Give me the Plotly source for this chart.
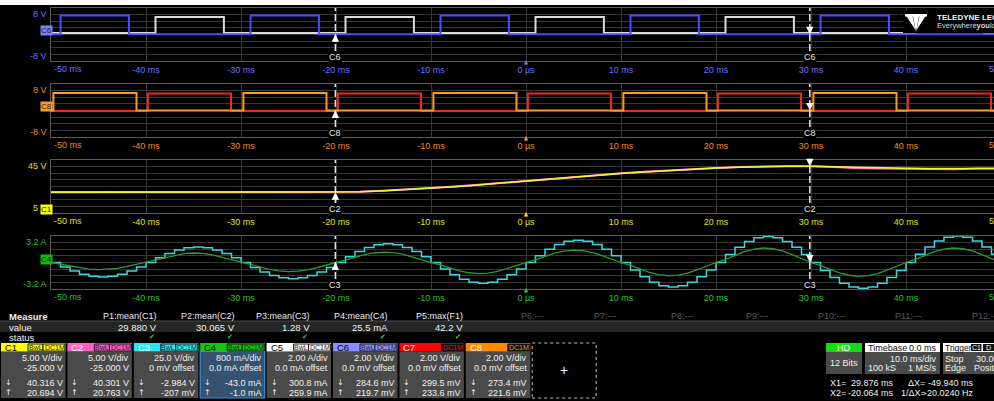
import plotly.graph_objects as go

# ---------------------------------------------------------------- data
time_ticks = [-40, -30, -20, -10, 0, 10, 20, 30, 40]
time_tick_text = ["-40 ms", "-30 ms", "-20 ms", "-10 ms", "0 µs",
                  "10 ms", "20 ms", "30 ms", "40 ms"]

# gate-drive channels: switching instants in ms (every trace starts low)
c6_edges = [-49.0, -41.8, -29.0, -21.8, -9.0, -1.8, 11.0, 18.2, 31.0, 38.2]
c5_edges = [-39.0, -31.8, -19.0, -11.8, 1.0, 8.2, 21.0, 28.2, 41.0, 48.2]
c8_edges = [-49.75, -41.0, -29.75, -21.0, -9.75, -1.0, 10.25, 19.0, 30.25, 39.0]
c7_edges = [-39.8, -31.05, -19.8, -11.05, 0.2, 8.95, 20.2, 28.95, 40.2, 48.95]
c6_levels = [0.1, 5.7]
c5_levels = [0.45, 5.3]
c8_levels = [0.0, 5.3]
c7_levels = [-0.15, 5.1]

# DC bus voltages (V), sampled every 2.5 ms
bus_time = [-50, -47.5, -45, -42.5, -40, -37.5, -35, -32.5, -30, -27.5, -25,
            -22.5, -20, -17.5, -15, -12.5, -10, -7.5, -5, -2.5, 0, 2.5, 5,
            7.5, 10, 12.5, 15, 17.5, 20, 22.5, 25, 27.5, 30, 32.5, 35, 37.5,
            40, 42.5, 45, 47.5, 50]
c1_bus = [20.70, 20.72, 20.68, 20.70, 20.71, 20.69, 20.70, 20.72, 20.70, 20.69,
          20.71, 20.70, 20.69, 21.00, 21.70, 22.60, 23.70, 24.90, 26.20, 27.70,
          29.30, 30.80, 32.20, 33.60, 34.90, 36.00, 37.10, 38.10, 38.90, 39.60,
          40.10, 40.30, 40.30, 39.90, 39.10, 38.80, 38.80, 38.60, 38.40, 38.60,
          38.60]
c2_bus = [20.76, 20.80, 20.95, 20.74, 20.76, 20.90, 20.75, 20.78, 20.76, 20.92,
          20.88, 20.77, 20.76, 21.05, 21.75, 22.65, 23.75, 24.95, 26.25, 27.75,
          29.35, 30.85, 32.30, 33.70, 35.00, 36.10, 37.20, 38.20, 39.00, 39.70,
          40.20, 40.35, 40.30, 39.80, 38.70, 38.60, 38.70, 38.40, 38.00, 38.50,
          38.60]

# phase currents (A), one sample per ms from -50 ms to +50 ms
cur_time = list(range(-50, 51))
c3_current = [
    0.00, -0.54, -1.03, -1.42, -1.66, -1.75, -1.66, -1.42, -1.03, -0.54,
    0.00, 0.58, 1.10, 1.51, 1.78, 1.87, 1.78, 1.51, 1.10, 0.58,
    0.00, -0.60, -1.15, -1.58, -1.85, -1.95, -1.85, -1.58, -1.15, -0.60,
    0.00, 0.70, 1.32, 1.82, 2.14, 2.25, 2.14, 1.82, 1.32, 0.70,
    0.00, -0.77, -1.47, -2.02, -2.38, -2.50, -2.38, -2.02, -1.47, -0.77,
    0.00, 0.83, 1.59, 2.18, 2.57, 2.70, 2.57, 2.18, 1.59, 0.83,
    0.00, -0.91, -1.73, -2.39, -2.81, -2.95, -2.81, -2.39, -1.73, -0.91,
    0.00, 0.97, 1.85, 2.55, 3.00, 3.15, 3.00, 2.55, 1.85, 0.97,
    0.00, -0.96, -1.82, -2.51, -2.95, -3.10, -2.95, -2.51, -1.82, -0.96,
    0.00, 0.99, 1.88, 2.59, 3.04, 3.20, 3.04, 2.59, 1.88, 0.99,
    0.00]
c4_current = [
    0.00, -0.19, -0.44, -0.65, -0.80, -0.87, -0.83, -0.70, -0.48, -0.22,
    0.00, 0.25, 0.58, 0.86, 1.06, 1.15, 1.09, 0.92, 0.63, 0.29,
    0.00, -0.24, -0.55, -0.83, -1.01, -1.10, -1.05, -0.88, -0.61, -0.28,
    0.00, 0.28, 0.63, 0.94, 1.15, 1.25, 1.19, 1.00, 0.69, 0.31,
    0.00, -0.30, -0.68, -1.01, -1.24, -1.35, -1.28, -1.08, -0.74, -0.34,
    0.00, 0.33, 0.75, 1.13, 1.38, 1.50, 1.43, 1.20, 0.83, 0.38,
    0.00, -0.35, -0.80, -1.20, -1.47, -1.60, -1.52, -1.28, -0.88, -0.40,
    0.00, 0.39, 0.88, 1.31, 1.61, 1.75, 1.66, 1.40, 0.96, 0.44,
    0.00, -0.37, -0.84, -1.25, -1.54, -1.67, -1.59, -1.34, -0.92, -0.42,
    0.00, 0.39, 0.88, 1.31, 1.61, 1.75, 1.66, 1.40, 0.96, 0.44,
    0.00]

cursor_x1 = 29.876
cursor_x2 = -20.064

measure_names = ["P1:mean(C1)", "P2:mean(C2)", "P3:mean(C3)", "P4:mean(C4)",
                 "P5:max(F1)", "P6:---", "P7:---", "P8:---", "P9:---",
                 "P10:---", "P11:---", "P12:---"]
measure_values = ["29.880 V", "30.065 V", "1.28 V", "25.5 mA", "42.2 V"]

channels = ["C1", "C2", "C3", "C4", "C5", "C6", "C7", "C8"]
ch_scale = ["5.00 V/div", "5.00 V/div", "25.0 V/div", "800 mA/div",
            "2.00 A/div", "2.00 V/div", "2.00 V/div", "2.00 V/div"]
ch_offset = ["-25.000 V", "-25.000 V", "0 mV offset", "0.0 mA offset",
             "0.0 mA offset", "0.0 mV offset", "0.0 mV offset", "0.0 mV offset"]
ch_at_x1 = ["40.316 V", "40.301 V", "-2.984 V", "-43.0 mA",
            "300.8 mA", "284.6 mV", "299.5 mV", "273.4 mV"]
ch_at_x2 = ["20.694 V", "20.763 V", "-207 mV", "-1.0 mA",
            "259.9 mA", "219.7 mV", "233.6 mV", "221.6 mV"]
ch_bwl = [True, True, True, True, True, True, False, False]

# ---------------------------------------------------------------- style
W, H = 994, 401
X_LEFT = 51
T_START, T_STOP = -50.0, -50.0 + (W - X_LEFT) / 9.5
FONT = "Liberation Sans, Arial, sans-serif"
GRID = "#363636"
FRAME = "#5a5a5a"

col_c1, col_c2, col_c3, col_c4 = "#f4f431", "#ff7fc6", "#3ad7df", "#2c9a2c"
col_c5, col_c6, col_c7, col_c8 = "#dcdcdc", "#4b4bff", "#ff2020", "#ff9a1a"
head_colors = ["#ffff00", "#ff5ec8", "#2ee6f0", "#12c412",
               "#ffffff", "#8c8cff", "#ff0000", "#ff8a00"]
head_text = ["#000000", "#ffffff", "#ffffff", "#000000",
             "#000000", "#000000", "#ffffff", "#ffffff"]

panels = [
    dict(top=8, bot=61, yr=[-8, 8], dtick=2, color="#6f6fff", hi="8 V", lo="-8 V",
         badge="C6", badge_bg="#7d7dff", badge_y=31, cur="C6", lvl=(0.1, 0.1)),
    dict(top=84, bot=137, yr=[-8, 8], dtick=2, color="#f08a1c", hi="8 V", lo="-8 V",
         badge="C8", badge_bg="#ff9a2a", badge_y=107, cur="C8", lvl=(0.0, 0.0)),
    dict(top=160, bot=213, yr=[5, 45], dtick=5, color="#e3e300", hi="45 V", lo="5",
         badge="C1", badge_bg="#ffff00", badge_y=209.5, cur="C2", lvl=(20.69, 40.3)),
    dict(top=236, bot=289, yr=[-3.2, 3.2], dtick=0.8, color="#2fbf2f", hi="3.2 A",
         lo="-3.2 A", badge="C4", badge_bg="#16b816", badge_y=259, cur="C3", lvl=(0, 0)),
]

fig = go.Figure()
shapes, ann = [], []


def px(x):
    return x / W


def py(y):
    return 1 - y / H


def text(x, y, s, size=9, color="#f0f0f0", anchor="left", bold=False, bg=None,
         family=FONT):
    ann.append(dict(x=px(x), y=py(y), xref="paper", yref="paper",
                    text=f"<b>{s}</b>" if bold else s, showarrow=False,
                    xanchor=anchor, yanchor="middle", borderpad=0,
                    bgcolor=bg, font=dict(family=family, size=size, color=color)))


def rect(x0, y0, x1, y1, fill, line=None, lw=1, dash=None):
    shapes.append(dict(type="rect", xref="paper", yref="paper",
                       x0=px(x0), x1=px(x1), y0=py(y1), y1=py(y0),
                       fillcolor=fill, layer="above",
                       line=dict(color=line if line else fill,
                                 width=lw if line else 0, dash=dash)))


def square(edges, levels, xa, ya, color, width):
    xs, ys, state = [T_START], [levels[0]], 0
    for e in edges:
        state ^= 1
        xs.append(e)
        ys.append(levels[state])
    xs.append(50)
    ys.append(levels[state])
    fig.add_trace(go.Scatter(x=xs, y=ys, mode="lines", xaxis=xa, yaxis=ya,
                             hoverinfo="skip",
                             line=dict(color=color, width=width, shape="hv")))


# ---------------------------------------------------------------- traces
square(c5_edges, c5_levels, "x", "y", col_c5, 2)
square(c6_edges, c6_levels, "x", "y", col_c6, 2)
square(c7_edges, c7_levels, "x2", "y2", col_c7, 2)
square(c8_edges, c8_levels, "x2", "y2", col_c8, 2)

fig.add_trace(go.Scatter(x=bus_time, y=c2_bus, mode="lines", xaxis="x3", yaxis="y3",
                         hoverinfo="skip", line=dict(color=col_c2, width=2)))
fig.add_trace(go.Scatter(x=bus_time, y=c1_bus, mode="lines", xaxis="x3", yaxis="y3",
                         hoverinfo="skip", line=dict(color=col_c1, width=1.5)))

fig.add_trace(go.Scatter(x=cur_time, y=c3_current, mode="lines", xaxis="x4", yaxis="y4",
                         hoverinfo="skip", line=dict(color=col_c3, width=1.5, shape="hv")))
fig.add_trace(go.Scatter(x=cur_time, y=c4_current, mode="lines", xaxis="x4", yaxis="y4",
                         hoverinfo="skip", line=dict(color=col_c4, width=1.3)))

# ---------------------------------------------------------------- grids / axes
layout = {}
for i, p in enumerate(panels, start=1):
    sx = "" if i == 1 else str(i)
    layout[f"xaxis{sx}"] = dict(
        domain=[px(X_LEFT), 1], range=[T_START, T_STOP], anchor=f"y{sx}",
        tickvals=time_ticks, ticktext=time_tick_text, ticks="",
        tickfont=dict(family=FONT, size=9, color=p["color"]),
        showgrid=True, gridcolor=GRID, gridwidth=1, zeroline=False,
        showline=True, mirror=True, linecolor=FRAME, linewidth=1, fixedrange=True)
    layout[f"yaxis{sx}"] = dict(
        domain=[py(p["bot"]), py(p["top"])], range=p["yr"], dtick=p["dtick"],
        tick0=p["yr"][0], anchor=f"x{sx}", showticklabels=False, ticks="",
        showgrid=True, gridcolor=GRID, gridwidth=1, zeroline=False,
        showline=True, mirror=True, linecolor=FRAME, linewidth=1, fixedrange=True)

    # scale labels and channel badge
    text(48, p["top"] + 6, p["hi"], size=9, color=p["color"], anchor="right")
    text(48 if i != 3 else 39, p["bot"] - 5, p["lo"], size=9, color=p["color"],
         anchor="right")
    text(46, p["badge_y"], p["badge"], size=8, color="#202020", anchor="center",
         bg=p["badge_bg"])
    # end-of-axis time labels
    text(X_LEFT + 2, p["bot"] + 8, "-50 ms", size=9, color=p["color"])
    text(1001, p["bot"] + 8, "50 ms", size=9, color=p["color"], anchor="center")
    # trigger position marker under 0 µs
    ann.append(dict(x=0, y=p["bot"] - 0.5, xref=f"x{sx}", yref="paper", text="",
                    showarrow=True, arrowhead=2, arrowsize=0.6, arrowwidth=1.5,
                    arrowcolor=p["color"], ax=0, ay=6, y_=None) if False else
               dict(x=0, y=py(p["bot"] - 1), xref=f"x{sx}", yref="paper", text="",
                    showarrow=True, arrowhead=2, arrowsize=0.6, arrowwidth=1.5,
                    arrowcolor=p["color"], ax=0, ay=6))

    # cursors
    for cx, lvl, ay in ((cursor_x2, p["lvl"][0], 9), (cursor_x1, p["lvl"][1], -9)):
        shapes.append(dict(type="line", xref=f"x{sx}", yref=f"y{sx} domain",
                           x0=cx, x1=cx, y0=0, y1=1, layer="above",
                           line=dict(color="#e6e6e6", width=1.5, dash="7px,3px")))
        ann.append(dict(x=cx, y=lvl, xref=f"x{sx}", yref=f"y{sx}", text="",
                        showarrow=True, arrowhead=2, arrowsize=1, arrowwidth=1.5,
                        arrowcolor="#ffffff", ax=0, ay=ay))
        ann.append(dict(x=cx, y=py(p["bot"] - 4), xref=f"x{sx}", yref="paper",
                        text=p["cur"], showarrow=False, bgcolor="#000000",
                        borderpad=0, xanchor="center", yanchor="middle",
                        font=dict(family=FONT, size=9, color="#e8e8e8")))

# ---------------------------------------------------------------- top strip and logo
rect(0, 0, W, 5, "#ffffff")
rect(903, 11, 994, 33, "#000000")
for blade in ([(905, 14), (912, 14), (915.5, 30)],
              [(912.5, 14), (919.5, 14), (916, 32)],
              [(920, 14), (927, 14), (916.5, 30)],
              [(905, 14), (927, 14), (927, 16.5), (905, 16.5)]):
    shapes.append(dict(type="path", xref="paper", yref="paper", layer="above",
                       path="M" + " L".join(f"{px(a):.5f},{py(b):.5f}" for a, b in blade) + " Z",
                       fillcolor="#ffffff", line=dict(width=0)))
text(936, 18, "TELEDYNE LECROY", size=8, bold=True)
text(936, 25.5, "Everywhere<b>you</b>look", size=7.5, color="#dddddd")

# ---------------------------------------------------------------- measurement table
rect(0, 321, W, 332, "#262626")
shapes.append(dict(type="line", xref="paper", yref="paper", x0=0, x1=1,
                   y0=py(321), y1=py(321), line=dict(color="#4a4a4a", width=1)))
text(8, 316, "Measure", size=9.5, bold=True)
text(8, 327, "value", size=9.5)
text(8, 337, "status", size=9.5)
col_right = [158, 236, 311, 389, 464, 545, 618, 695, 770, 847, 923, 1001]
for k, name in enumerate(measure_names):
    text(col_right[k], 316, name, size=9,
         color="#eeeeee" if k < len(measure_values) else "#5c5c5c", anchor="right")
for k, val in enumerate(measure_values):
    text(col_right[k], 327, val, size=9.5, anchor="right")
    text(col_right[k] - 2, 337, "✔", size=7, color="#3ccf3c", anchor="right",
         family="DejaVu Sans")

# ---------------------------------------------------------------- channel boxes
BOX_TOP, HEAD_BOT, BOX_BOT = 343, 351.5, 398
for k, ch in enumerate(channels):
    x0 = 1 + 66.4 * k
    x1 = x0 + 64.5
    if ch == "C4":
        rect(x0, HEAD_BOT, x1, BOX_BOT, "#35536f", line="#3d8fd6", lw=1.2)
    else:
        rect(x0, HEAD_BOT, x1, BOX_BOT, "#4a4a4a")
    rect(x0, BOX_TOP, x1, HEAD_BOT, head_colors[k])
    text(x0 + 3, 347.3, ch, size=9.5, color=head_text[k])
    if ch_bwl[k]:
        rect(x0 + 27, BOX_TOP + 1, x0 + 42, HEAD_BOT - 0.5, head_colors[k],
             line="#1a1a1a", lw=1)
        text(x0 + 34.5, 347.3, "BwL", size=7, color="#1a1a1a", anchor="center")
    rect(x0 + 42, BOX_TOP + 1, x1 - 0.5, HEAD_BOT - 0.5,
         "#111111" if ch in ("C7", "C8") else head_colors[k], line="#1a1a1a", lw=1)
    text(x0 + 53.5, 347.3, "DC1M", size=7,
         color=head_colors[k] if ch in ("C7", "C8") else "#1a1a1a", anchor="center")
    text(x1 - 2, 357.5, ch_scale[k], anchor="right")
    text(x1 - 2, 367.5, ch_offset[k], anchor="right")
    text(x1 - 2, 382.5, ch_at_x1[k], anchor="right")
    text(x1 - 2, 392.5, ch_at_x2[k], anchor="right")
    text(x0 + 3, 382.5, "↓", size=8, family="DejaVu Sans")
    text(x0 + 3, 392.5, "↑", size=8, family="DejaVu Sans")

# empty slot for a new channel
ex0 = 1 + 66.4 * 8
rect(ex0, BOX_TOP, ex0 + 64, BOX_BOT, "#000000", line="#bdbdbd", lw=1, dash="dot")
text(ex0 + 32, 370, "+", size=14, anchor="center")

# ---------------------------------------------------------------- acquisition status
rect(826, 343, 862, 352, "#16dc16")
text(844, 347.5, "HD", color="#ffffff", anchor="center")
rect(826, 352, 862, 374, "#4a4a4a")
text(844, 363, "12 Bits", anchor="center")

rect(865, 343, 940, 352, "#ffffff")
text(867, 347.5, "Timebase", color="#111111")
text(938, 347.5, "0.0 ms", color="#111111", anchor="right")
rect(865, 352, 940, 374, "#4a4a4a")
text(938, 358.5, "10.0 ms/div", anchor="right")
text(867, 368, "100 kS")
text(938, 368, "1 MS/s", anchor="right")

rect(943, 343, 994, 352, "#ffffff")
text(944, 347.5, "Trigger", size=8.5, color="#111111")
rect(971, 344, 981.5, 351, "#111111")
text(976.2, 347.5, "C1", size=7, color="#ffffff", anchor="center")
rect(983, 344, 994, 351, "#111111")
text(985, 347.5, "D", size=7, color="#ffffff")
rect(943, 352, 994, 374, "#4a4a4a")
text(944, 358.5, "Stop")
text(975, 358.5, "30.00")
text(944, 368, "Edge")
text(973, 368, "Positi")

text(829, 382.5, "X1=")
text(895, 382.5, "29.876 ms", anchor="right")
text(907, 382.5, "ΔX=")
text(975, 382.5, "-49.940 ms", anchor="right")
text(829, 392.5, "X2=")
text(895, 392.5, "-20.064 ms", anchor="right")
text(900, 392.5, "1/ΔX=")
text(975, 392.5, "-20.0240 Hz", anchor="right")

fig.update_layout(
    width=W, height=H, margin=dict(l=0, r=0, t=0, b=0),
    paper_bgcolor="#000000", plot_bgcolor="#000000", showlegend=False,
    shapes=shapes, annotations=ann, **layout)

fig.write_html("out.html", config={"displayModeBar": False})
